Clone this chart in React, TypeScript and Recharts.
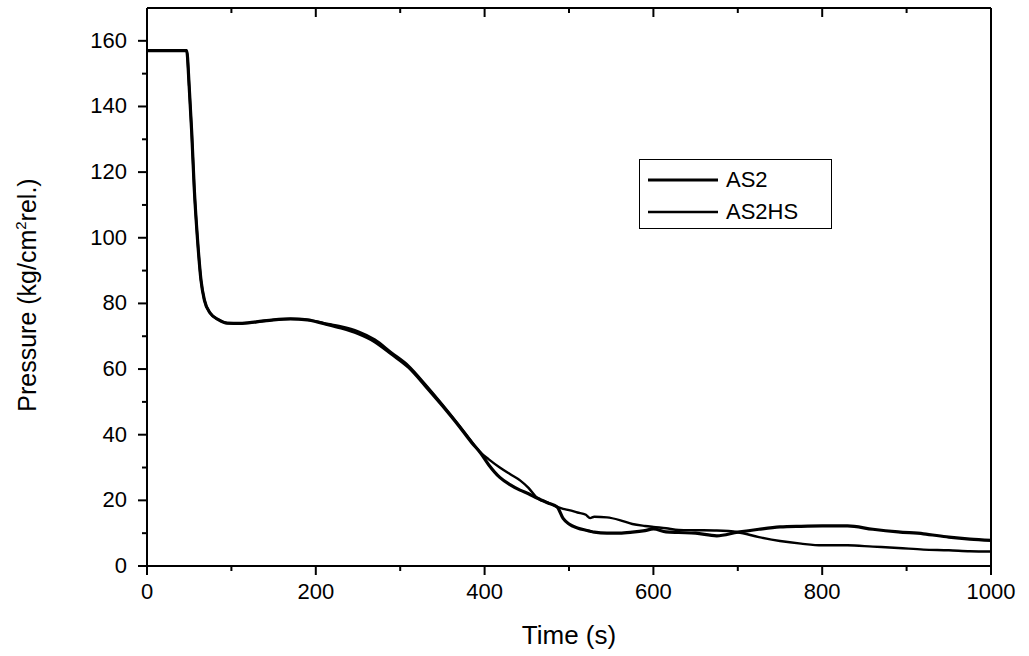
import React from "react";
import { LineChart, Line, XAxis, YAxis, Legend } from "recharts";

// time base (s) shared by both runs
const times = [
  0, 47, 50, 53, 56, 60, 64, 68, 75, 85, 95, 110, 130, 150, 170, 190, 210, 230,
  250, 270, 290, 310, 330, 350, 370, 385, 395, 405, 418, 430, 442, 452, 462, 475,
  486, 493, 500, 510, 520, 525, 530, 545, 560, 575, 590, 600, 615, 630, 650, 675,
  700, 725, 750, 775, 800, 830, 860, 890, 920, 950, 975, 1000,
];

// pressure, kg/cm2 rel.
const as2 = [
  157, 157, 146, 132, 115, 99, 87, 81, 77, 75, 74, 73.9, 74.4, 75, 75.3, 75, 73.8, 72.5,
  70.8, 68.3, 64.5, 60.5, 54.8, 48.8, 42.5, 37.5, 34.5, 30.8, 27, 24.8, 23.1, 22, 20.7, 19.2,
  18, 14.5, 12.8, 11.6, 10.9, 10.6, 10.3, 10, 10, 10.3, 10.8, 11.3, 10.4, 10.2, 10, 9.2,
  10.3, 11.2, 11.9, 12.1, 12.2, 12.2, 11.2, 10.4, 9.8, 8.8, 8.2, 7.8,
];

const as2hs = [
  157, 157, 146, 132, 115, 99, 87, 81, 77, 75, 74, 73.9, 74.4, 75, 75.3, 75, 74, 73,
  71.5, 69, 65, 61, 55.3, 49.2, 42.8, 37.8, 34.6, 32.5, 30, 28, 26.1, 23.8, 20.8, 19.3,
  18, 17.4, 17, 16.3, 15.6, 14.6, 15, 14.8, 14, 12.8, 12.2, 11.9, 11.5, 11, 10.9, 10.8,
  10.3, 8.8, 7.6, 6.8, 6.3, 6.3, 5.9, 5.5, 5, 4.8, 4.5, 4.4,
];

const xTicks = [0, 100, 200, 300, 400, 500, 600, 700, 800, 900, 1000];
const yTicks = [0, 10, 20, 30, 40, 50, 60, 70, 80, 90, 100, 110, 120, 130, 140, 150, 160, 170];

const data = times.map((t, i) => ({ t, AS2: as2[i], AS2HS: as2hs[i] }));

const FONT = "'Liberation Sans', Arial, sans-serif";
const axisLine = { stroke: "#000", strokeWidth: 2 };

// ticks are drawn by hand so majors and minors can differ in length
const BottomTick = (props: any) => {
  const { x, y, payload } = props;
  const major = payload.value % 200 === 0;
  return (
    <g>
      <line x1={x} x2={x} y1={y} y2={y + (major ? 9 : 5)} stroke="#000" strokeWidth={2} />
      {major && (
        <text x={x} y={y + 33} textAnchor="middle" fontSize={22} fontFamily={FONT} fill="#000">
          {payload.value}
        </text>
      )}
    </g>
  );
};

const TopTick = (props: any) => {
  const { x, y, payload } = props;
  const major = payload.value % 200 === 0;
  return <line x1={x} x2={x} y1={y} y2={y + (major ? 9 : 5)} stroke="#000" strokeWidth={2} />;
};

const LeftTick = (props: any) => {
  const { x, y, payload } = props;
  const major = payload.value % 20 === 0;
  if (payload.value > 160) return <g />;
  return (
    <g>
      <line x1={x} x2={x - (major ? 9 : 5)} y1={y} y2={y} stroke="#000" strokeWidth={2} />
      {major && (
        <text x={x - 20} y={y + 7} textAnchor="end" fontSize={22} fontFamily={FONT} fill="#000">
          {payload.value}
        </text>
      )}
    </g>
  );
};

const RightTick = (props: any) => {
  const { x, y, payload } = props;
  const major = payload.value % 20 === 0;
  if (payload.value > 160) return <g />;
  return <line x1={x} x2={x - (major ? 9 : 5)} y1={y} y2={y} stroke="#000" strokeWidth={2} />;
};

const YLabel = (props: any) => {
  const { viewBox } = props;
  const cx = viewBox.x + 36;
  const cy = viewBox.y + viewBox.height / 2 + 8;
  return (
    <text
      x={cx}
      y={cy}
      transform={`rotate(-90, ${cx}, ${cy})`}
      textAnchor="middle"
      fontSize={25}
      fontFamily={FONT}
      fill="#000"
    >
      <tspan>Pressure (kg/cm</tspan>
      <tspan fontSize={15} dy={-10}>2</tspan>
      <tspan dy={10}>rel.)</tspan>
    </text>
  );
};

const LegendBox = () => (
  <div
    style={{
      width: 193,
      height: 70,
      border: "1.5px solid #000",
      background: "#fff",
      fontFamily: FONT,
      fontSize: 22,
      color: "#000",
      boxSizing: "border-box",
      position: "relative",
    }}
  >
    {[
      { name: "AS2", w: 3.2, top: 20 },
      { name: "AS2HS", w: 2.4, top: 52 },
    ].map((it) => (
      <div key={it.name} style={{ position: "absolute", left: 8, top: it.top - 14, height: 28, display: "flex", alignItems: "center" }}>
        <svg width={70} height={28}>
          <line x1={0} x2={70} y1={14} y2={14} stroke="#000" strokeWidth={it.w} />
        </svg>
        <span style={{ marginLeft: 8, lineHeight: "28px" }}>{it.name}</span>
      </div>
    ))}
  </div>
);

export default function App() {
  return (
    <div style={{ position: "absolute", left: 0, top: 0, width: 1029, height: 656, background: "#fff" }}>
      <LineChart width={1029} height={656} data={data} margin={{ top: 7, right: 37, bottom: 0, left: 0 }}>
        <XAxis
          xAxisId="x"
          dataKey="t"
          type="number"
          domain={[0, 1000]}
          ticks={xTicks}
          interval={0}
          tickSize={0}
          tickMargin={0}
          tickLine={false}
          tick={<BottomTick />}
          axisLine={axisLine}
          height={90}
          label={{ value: "Time (s)", position: "insideBottom", offset: 12, fontSize: 26, fontFamily: FONT, fill: "#000" }}
        />
        <XAxis
          xAxisId="top"
          orientation="top"
          dataKey="t"
          type="number"
          domain={[0, 1000]}
          ticks={xTicks}
          interval={0}
          tickSize={0}
          tickMargin={0}
          tickLine={false}
          tick={<TopTick />}
          axisLine={axisLine}
          height={1}
        />
        <YAxis
          yAxisId="y"
          type="number"
          domain={[0, 170]}
          ticks={yTicks}
          interval={0}
          tickSize={0}
          tickMargin={0}
          tickLine={false}
          tick={<LeftTick />}
          axisLine={axisLine}
          width={147}
          label={<YLabel />}
        />
        <YAxis
          yAxisId="right"
          orientation="right"
          type="number"
          domain={[0, 170]}
          ticks={yTicks}
          interval={0}
          tickSize={0}
          tickMargin={0}
          tickLine={false}
          tick={<RightTick />}
          axisLine={axisLine}
          width={1}
        />
        <Legend
          layout="horizontal"
          verticalAlign="middle"
          content={<LegendBox />}
          wrapperStyle={{ left: 639, top: 159, width: 193, height: 70 }}
        />
        <Line
          xAxisId="x"
          yAxisId="y"
          dataKey="AS2"
          type="monotone"
          stroke="#000"
          strokeWidth={3.2}
          dot={false}
          isAnimationActive={false}
        />
        <Line
          xAxisId="x"
          yAxisId="y"
          dataKey="AS2HS"
          type="monotone"
          stroke="#000"
          strokeWidth={2.4}
          dot={false}
          isAnimationActive={false}
        />
      </LineChart>
    </div>
  );
}
